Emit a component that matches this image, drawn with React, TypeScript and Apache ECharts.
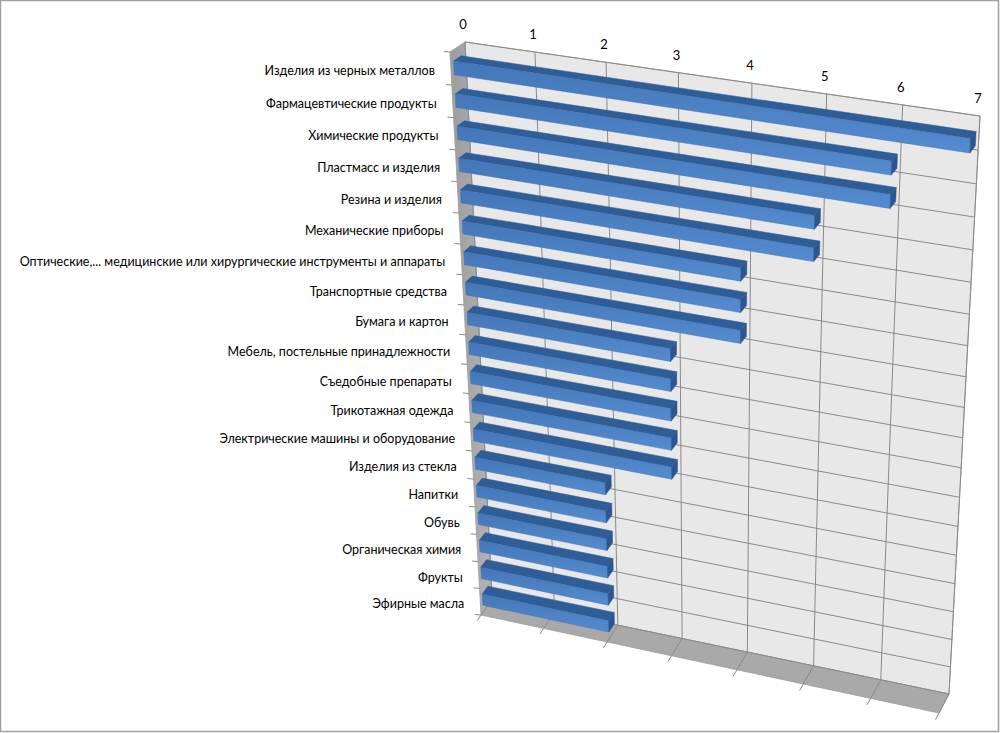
import React, { useEffect, useRef } from "react";
import * as echarts from "echarts";

const categories: string[] = [
  "Изделия из черных металлов",
  "Фармацевтические продукты",
  "Химические продукты",
  "Пластмасс и изделия",
  "Резина и изделия",
  "Механические приборы",
  "Оптические,... медицинские или хирургические инструменты и аппараты",
  "Транспортные средства",
  "Бумага и картон",
  "Мебель, постельные принадлежности",
  "Съедобные препараты",
  "Трикотажная одежда",
  "Электрические машины и оборудование",
  "Изделия из стекла",
  "Напитки",
  "Обувь",
  "Органическая химия",
  "Фрукты",
  "Эфирные масла",
];

const values: number[] = [7, 6, 6, 5, 5, 4, 4, 4, 3, 3, 3, 3, 3, 2, 2, 2, 2, 2, 2];

const valueTicks: number[] = [0, 1, 2, 3, 4, 5, 6, 7];

// ---- perspective layout (screen geometry of the 3D box) ----
const BACK_TL = [465, 42];
const BACK_TR = [980, 116];
const BACK_BR = [949, 694];
const BACK_BL = [492, 599];
const DEPTH_TL = [-15, 10];
const DEPTH_TR = [-11, 14];
const DEPTH_BR = [-10, 19];
const DEPTH_BL = [-11, 16];
const BAR_FRONT = 0.8;
const BAR_BACK = 0.3;
const BAR_V0 = 0.33;
const BAR_V1 = 0.75;

function makeHomography(p0: number[], p1: number[], p2: number[], p3: number[]) {
  const [x0, y0] = p0, [x1, y1] = p1, [x2, y2] = p2, [x3, y3] = p3;
  const dx1 = x1 - x2, dx2 = x3 - x2, dx3 = x0 - x1 + x2 - x3;
  const dy1 = y1 - y2, dy2 = y3 - y2, dy3 = y0 - y1 + y2 - y3;
  const det = dx1 * dy2 - dx2 * dy1;
  const g = (dx3 * dy2 - dx2 * dy3) / det;
  const h = (dx1 * dy3 - dx3 * dy1) / det;
  const a = x1 - x0 + g * x1, b = x3 - x0 + h * x3, c = x0;
  const d = y1 - y0 + g * y1, e = y3 - y0 + h * y3, f = y0;
  return (u: number, v: number) => {
    const den = g * u + h * v + 1;
    return [(a * u + b * v + c) / den, (d * u + e * v + f) / den];
  };
}

const H = makeHomography(BACK_TL, BACK_TR, BACK_BR, BACK_BL);

function depthAt(s: number, t: number) {
  const x =
    (1 - s) * (1 - t) * DEPTH_TL[0] + s * (1 - t) * DEPTH_TR[0] + s * t * DEPTH_BR[0] + (1 - s) * t * DEPTH_BL[0];
  const y =
    (1 - s) * (1 - t) * DEPTH_TL[1] + s * (1 - t) * DEPTH_TR[1] + s * t * DEPTH_BR[1] + (1 - s) * t * DEPTH_BL[1];
  return [x, y];
}

function P(s: number, t: number, w: number) {
  const b = H(s, t);
  const d = depthAt(s, t);
  return [b[0] + w * d[0], b[1] + w * d[1]];
}

const GRID_COLOR = "#8a8a8a";
const FONT = "Lato, 'Open Sans', sans-serif";

function App() {
  const ref = useRef<HTMLDivElement>(null);

  useEffect(() => {
    if (!ref.current) return;
    const chart = echarts.init(ref.current, undefined, { renderer: "svg" });

    const toST = (cs: any, pt: number[]) => [(pt[0] - cs.x) / cs.width, (pt[1] - cs.y) / cs.height];

    const backgroundItem = (params: any, api: any) => {
      const cs = params.coordSys;
      const n = categories.length;
      const band = api.size([0, 1])[1] / cs.height;
      const children: any[] = [];
      // back wall
      children.push({
        type: "polygon",
        shape: { points: [P(0, 0, 0), P(1, 0, 0), P(1, 1, 0), P(0, 1, 0)] },
        style: { fill: "#e8e8e8", stroke: "#a8a8a8", lineWidth: 1 },
      });
      // floor
      children.push({
        type: "polygon",
        shape: { points: [P(0, 1, 0), P(1, 1, 0), P(1, 1, 1), P(0, 1, 1)] },
        style: { fill: "#a9a9a9", stroke: "#9a9a9a", lineWidth: 0.8 },
      });
      // left side wall
      children.push({
        type: "polygon",
        shape: { points: [P(0, 0, 0), P(0, 1, 0), P(0, 1, 1), P(0, 0, 1)] },
        style: {
          fill: new echarts.graphic.LinearGradient(0, 0, 1, 0, [
            { offset: 0, color: "#9c9c9c" },
            { offset: 1, color: "#b4b4b4" },
          ]),
          stroke: "#9a9a9a",
          lineWidth: 0.8,
        },
      });
      // horizontal gridlines on back wall (category boundaries)
      for (let i = 0; i <= n; i++) {
        const c = i < n ? toST(cs, api.coord([0, i]))[1] - band / 2 : toST(cs, api.coord([0, n - 1]))[1] + band / 2;
        const a = P(0, c, 0), b = P(1, c, 0);
        children.push({
          type: "line",
          shape: { x1: a[0], y1: a[1], x2: b[0], y2: b[1] },
          style: { stroke: GRID_COLOR, lineWidth: 1 },
        });
        // tick on left front edge
        const f = P(0, c, 1);
        children.push({
          type: "line",
          shape: { x1: f[0], y1: f[1], x2: f[0] - 6, y2: f[1] - 0.5 },
          style: { stroke: "#8a8a8a", lineWidth: 1 },
        });
      }
      // vertical gridlines + floor lines + value labels
      valueTicks.forEach((k) => {
        const s = toST(cs, api.coord([k, 0]))[0];
        const a = P(s, 0, 0), b = P(s, 1, 0), f = P(s, 1, 1), f2 = P(s, 1, 1.35);
        children.push({
          type: "line",
          shape: { x1: a[0], y1: a[1], x2: b[0], y2: b[1] },
          style: { stroke: GRID_COLOR, lineWidth: 1 },
        });
        children.push({
          type: "polyline",
          shape: { points: [b, f, f2] },
          style: { stroke: "#8a8a8a", lineWidth: 1, fill: "none" },
        });
        children.push({
          type: "text",
          x: a[0] - 2,
          y: a[1] - 18,
          style: {
            text: String(k),
            fill: "#000000",
            font: `13px ${FONT}`,
            align: "center",
            verticalAlign: "middle",
          },
        });
      });
      return { type: "group", children };
    };

    const barItem = (params: any, api: any) => {
      const cs = params.coordSys;
      const val = api.value(0);
      const idx = api.value(1);
      const start = toST(cs, api.coord([0, idx]));
      const end = toST(cs, api.coord([val, idx]));
      const band = api.size([0, 1])[1] / cs.height;
      const s0 = start[0], s1 = end[0];
      const top = start[1] - band / 2 + BAR_V0 * band;
      const bot = start[1] - band / 2 + BAR_V1 * band;
      const topFace = [P(s0, top, BAR_BACK), P(s1, top, BAR_BACK), P(s1, top, BAR_FRONT), P(s0, top, BAR_FRONT)];
      const front = [P(s0, top, BAR_FRONT), P(s1, top, BAR_FRONT), P(s1, bot, BAR_FRONT), P(s0, bot, BAR_FRONT)];
      const cap = [P(s1, top, BAR_BACK), P(s1, top, BAR_FRONT), P(s1, bot, BAR_FRONT), P(s1, bot, BAR_BACK)];
      return {
        type: "group",
        children: [
          { type: "polygon", shape: { points: topFace }, style: { fill: "#2f5d98", stroke: "#2f5d98", lineWidth: 0.5 } },
          {
            type: "polygon",
            shape: { points: front },
            style: {
              fill: new echarts.graphic.LinearGradient(0, 0, 0, 1, [
                { offset: 0, color: "#4377b9" },
                { offset: 1, color: "#558bcf" },
              ]),
              stroke: "#3f71b0",
              lineWidth: 0.5,
            },
          },
          { type: "polygon", shape: { points: cap }, style: { fill: "#2b5690", stroke: "#2b5690", lineWidth: 0.5 } },
        ],
      };
    };

    const labelItem = (params: any, api: any) => {
      const cs = params.coordSys;
      const idx = api.value(1);
      const c = toST(cs, api.coord([0, idx]));
      const p = P(0, c[1], 1);
      return {
        type: "text",
        x: p[0] - 16,
        y: p[1] + 2,
        style: {
          text: categories[idx],
          fill: "#000000",
          font: `12.5px ${FONT}`,
          align: "right",
          verticalAlign: "middle",
        },
      };
    };

    chart.setOption({
      animation: false,
      backgroundColor: "#ffffff",
      grid: { left: 100, top: 100, width: 600, height: 500 },
      xAxis: { type: "value", min: 0, max: 7, interval: 1, show: false },
      yAxis: { type: "category", data: categories, inverse: true, show: false },
      graphic: [
        {
          type: "rect",
          shape: { x: 0.5, y: 0.5, width: 998, height: 731 },
          style: { fill: "none", stroke: "#a0a0a0", lineWidth: 1.5 },
          z: 0,
        },
      ],
      series: [
        { type: "custom", z: 1, clip: false, silent: true, renderItem: backgroundItem, data: [[0, 0]], encode: { x: 0, y: 1 } },
        {
          type: "custom",
          z: 2,
          clip: false,
          renderItem: barItem,
          data: values.map((v, i) => [v, i]),
          encode: { x: 0, y: 1 },
        },
        {
          type: "custom",
          z: 3,
          clip: false,
          silent: true,
          renderItem: labelItem,
          data: categories.map((_, i) => [0, i]),
          encode: { x: 0, y: 1 },
        },
      ],
    });

    return () => chart.dispose();
  }, []);

  return <div ref={ref} style={{ position: "absolute", left: 0, top: 0, width: 1000, height: 733 }} />;
}

export default App;
